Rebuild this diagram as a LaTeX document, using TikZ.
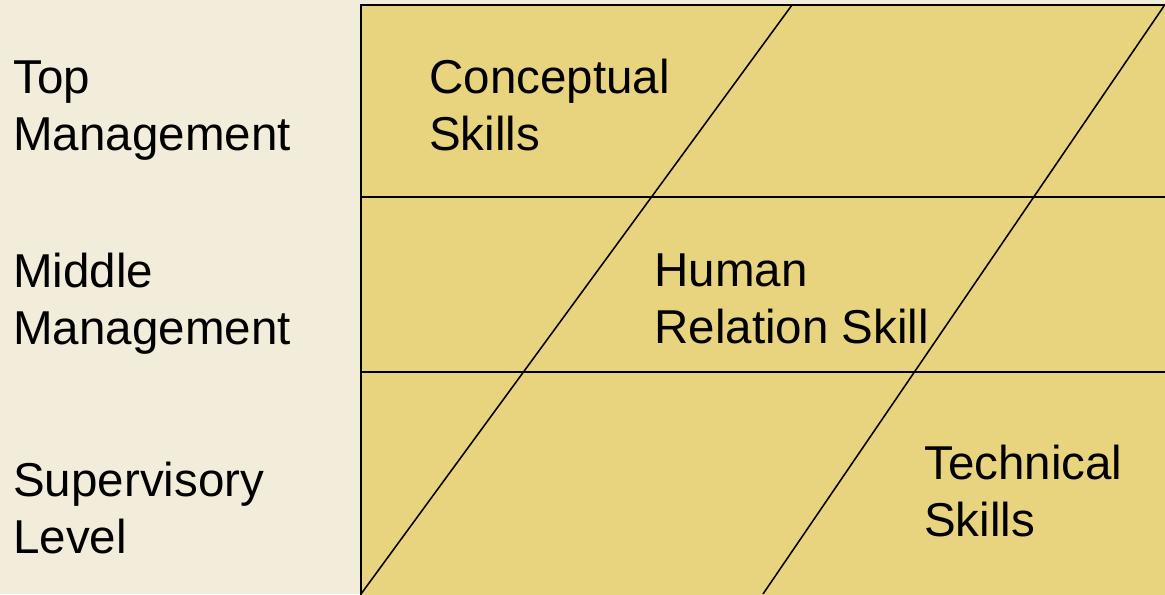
\documentclass[tikz,border=0pt]{standalone}
\usepackage{fontspec}
\setmainfont{Liberation Sans}
\definecolor{paper}{RGB}{241,237,218}
\definecolor{sand}{RGB}{232,211,126}
\tikzset{
  label/.style={anchor=base west, inner sep=0pt, align=left,
    font=\fontsize{33.8}{40.5}\selectfont},
  rule/.style={line width=1.4pt},
  split/.style={line width=1.1pt}
}

\begin{document}
\begin{tikzpicture}[x=0.025cm, y=-0.025cm]
  % Page
  \fill[paper] (0,0) rectangle (1165,594);
  \useasboundingbox (0,0) rectangle (1165,594);

  % Corners of the grid
  \coordinate (NW) at (361,5);
  \coordinate (SW) at (361,600);
  \coordinate (NE) at (1170,5);

  % Grid box, only top and left edges show
  \fill[sand] (NW) rectangle (1170,600);
  \draw[rule] (SW) -- (NW) -- (NE);
  \draw[rule] (361,197) -- (1170,197);
  \draw[rule] (361,372) -- (1170,372);

  % Diagonal borders between the skills
  \coordinate (A) at (792,5);
  \coordinate (B) at (361,594);
  \coordinate (C) at (1164,6);
  \coordinate (D) at (763,594);
  \draw[split] (A) -- (B);
  \draw[split] (C) -- (D);

  % Levels (base is the last line)
  \node[label] (top) at (13,150) {Top\\Management};
  \node[label] (middle) at (13,344) {Middle\\Management};
  \node[label] (super) at (13,553) {Supervisory\\Level};

  % Skills
  \node[label] (concept) at (429,150) {Conceptual\\Skills};
  \node[label] (human) at (654,343) {Human\\Relation Skill};
  \node[label] (tech) at (924,536) {Technical\\Skills};
\end{tikzpicture}
\end{document}
